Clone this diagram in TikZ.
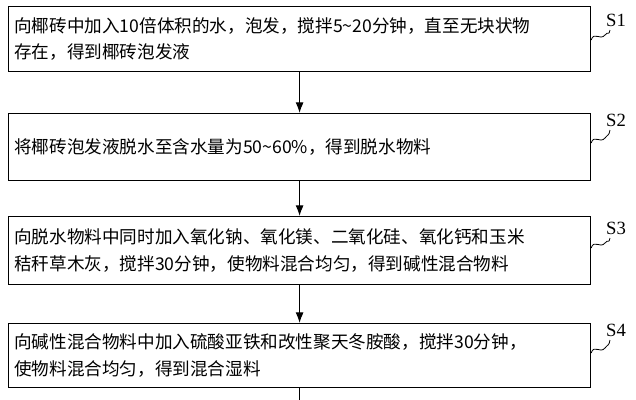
\documentclass[tikz,border=0pt]{standalone}
\usepackage{fontspec}
\setmainfont{Liberation Serif}
\newfontfamily\cjk{Noto Sans CJK SC}
\begin{document}
\begin{tikzpicture}[x=0.75pt,y=-0.75pt,
  stepbox/.style={draw,line width=0.9pt,rectangle,minimum width=436.5pt,text width=428pt,align=left,inner xsep=4pt,font=\cjk\fontsize{13.2}{20}\selectfont},
  arr/.style={line width=0.8pt,-{Latex[length=8pt,width=6pt]}},
  lab/.style={font=\fontsize{14}{16}\selectfont}]
\usetikzlibrary{arrows.meta}
\useasboundingbox (0,0) rectangle (636,400);
\node[stepbox,minimum height=48.75pt,anchor=north west] (b1) at (8,6) {向椰砖中加入10倍体积的水，泡发，搅拌5\textasciitilde20分钟，直至无块状物\\存在，得到椰砖泡发液};
\node[stepbox,minimum height=50pt,anchor=north west] (b2) at (8,113) {将椰砖泡发液脱水至含水量为50\textasciitilde60\%，得到脱水物料};
\node[stepbox,minimum height=51pt,anchor=north west] (b3) at (8,216) {向脱水物料中同时加入氧化钠、氧化镁、二氧化硅、氧化钙和玉米\\秸秆草木灰，搅拌30分钟，使物料混合均匀，得到碱性混合物料};
\node[stepbox,minimum height=48pt,anchor=north west] (b4) at (8,323) {向碱性混合物料中加入硫酸亚铁和改性聚天冬胺酸，搅拌30分钟，\\使物料混合均匀，得到混合湿料};
\coordinate (end) at (b4.south |- 0,400);
\draw[arr] (b1) -- (b2);
\draw[arr] (b2) -- (b3);
\draw[arr] (b3) -- (b4);
\draw[line width=0.8pt] (b4) -- (end);
\foreach \i/\y/\ly in {1/40/20,2/143/120,3/248/228,4/353/330}{
  \node[lab] (s\i) at (616,\ly) {S\i};
  \coordinate (c\i) at (610,\ly+10);
  \draw[line width=0.6pt] (b\i.east |- 0,\y) .. controls (594,\y-9) and (600,\y+1) .. (605,\y-5) .. controls (608,\y-9) and (609,\ly+16) .. (c\i);
}
\end{tikzpicture}
\end{document}
